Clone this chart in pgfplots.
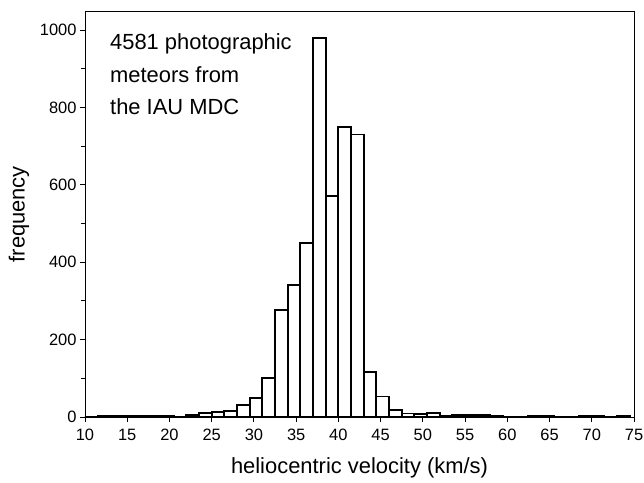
\documentclass[border=0pt]{standalone}
\usepackage{pgfplots}
\pgfplotsset{compat=1.18}
\usepackage{fontspec}
\setmainfont{Liberation Sans}
\begin{document}
\begin{tikzpicture}
\begin{axis}[
  at={(0,0)}, anchor=south west,
  scale only axis,
  width=549bp, height=405.5bp,
  xmin=10, xmax=75, ymin=0, ymax=1048,
  axis line style={line width=1pt},
  xtick={10,15,...,75},
  ytick={0,200,...,1000},
  minor ytick={100,300,...,900},
  xtick pos=bottom, ytick pos=left,
  tick align=outside,
  major tick length=5bp, minor tick length=4bp,
  tick style={line width=0.9pt, black},
  tick label style={font=\fontsize{16.5}{18}\selectfont},
  xticklabel style={yshift=-4bp},
  /pgf/number format/assume math mode=true,
  /pgf/number format/1000 sep={},
  xlabel={heliocentric velocity (km/s)},
  ylabel={frequency},
  label style={font=\fontsize{22}{24}\selectfont},
  xlabel style={at={(axis description cs:0.5,0)}, anchor=center, yshift=-51bp},
  ylabel style={at={(axis description cs:0,0.5)}, anchor=center, yshift=66bp},
]
\addplot[ybar interval, fill=white, draw=black, line width=1.9bp] coordinates {
(10,0) (11.5,2) (13,3) (14.5,2) (16,2) (17.5,2) (19,2) (20.5,0)
(22,6) (23.5,10) (25,13) (26.5,15) (28,32) (29.5,49) (31,101)
(32.5,276) (34,342) (35.5,450) (37,980) (38.5,570) (40,749)
(41.5,730) (43,117) (44.5,53) (46,18) (47.5,9) (49,8) (50.5,10)
(52,3) (53.5,5) (55,5) (56.5,5) (58,2) (59.5,0) (61,0) (62.5,2)
(64,2) (65.5,0) (67,0) (68.5,2) (70,2) (71.5,0) (73,2) (74.5,2)
};
\node[anchor=north west, align=left, font=\fontsize{22}{32.5}\selectfont, inner sep=0pt]
  at (axis description cs:0.0455,0.945) {4581 photographic\\meteors from\\the IAU MDC};
\end{axis}
\pgfresetboundingbox
\path[use as bounding box] (-85bp,-66bp) rectangle (559bp,417bp);
\end{tikzpicture}
\end{document}
